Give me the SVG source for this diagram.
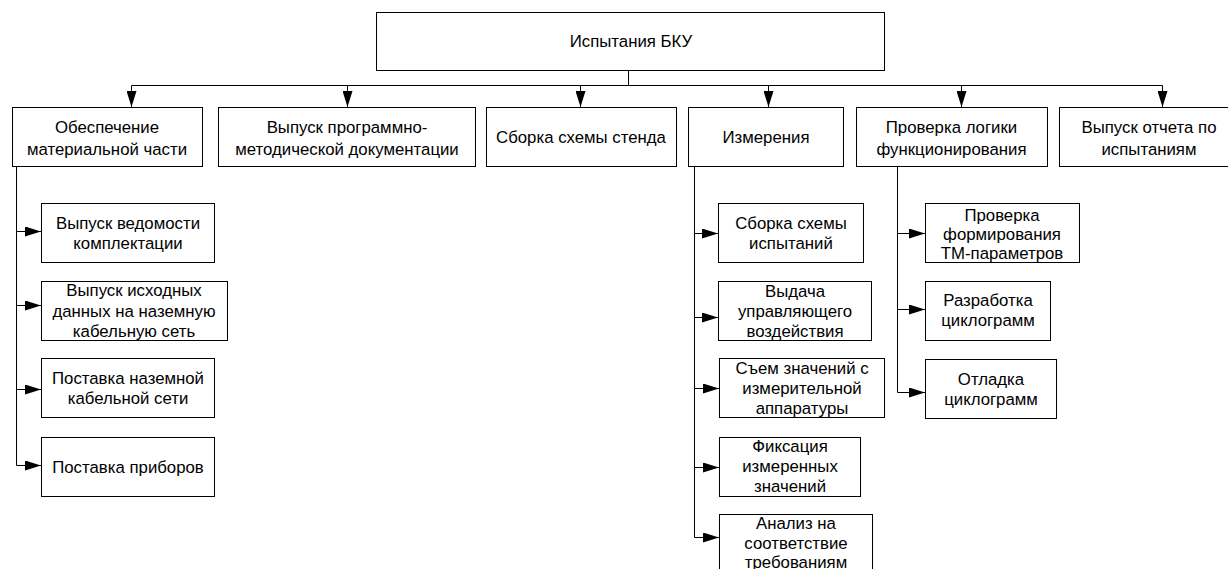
<svg xmlns="http://www.w3.org/2000/svg" width="1228" height="569" viewBox="0 0 1228 569">
<style>
rect{fill:#fff;stroke:#000;stroke-width:1}
text{font-family:"Liberation Sans",Arial,sans-serif;font-size:16.8px;fill:#000;text-anchor:middle}
.c{fill:none;stroke:#000;stroke-width:1}
</style>
<defs>
<marker id="arr" markerUnits="userSpaceOnUse" viewBox="0 0 16 10" refX="16" refY="5" markerWidth="16" markerHeight="10" orient="auto">
<path d="M0,0 L16,5 L0,10 z" fill="#000"/>
</marker>
</defs>
<rect x="0" y="0" width="1228" height="569" style="fill:#fff;stroke:none"/>
<g id="connectors">
<path class="c" d="M628.5,71 V85.5 H131.5 V107" marker-end="url(#arr)"/>
<path class="c" d="M628.5,85.5 H347.5 V107" marker-end="url(#arr)"/>
<path class="c" d="M628.5,85.5 H580.5 V107" marker-end="url(#arr)"/>
<path class="c" d="M628.5,85.5 H768.5 V107" marker-end="url(#arr)"/>
<path class="c" d="M628.5,85.5 H961.5 V107" marker-end="url(#arr)"/>
<path class="c" d="M628.5,85.5 H1162.5 V107" marker-end="url(#arr)"/>
<path class="c" d="M16.5,167 V231.5 H41" marker-end="url(#arr)"/>
<path class="c" d="M16.5,231.5 V305.5 H41" marker-end="url(#arr)"/>
<path class="c" d="M16.5,305.5 V389.5 H41" marker-end="url(#arr)"/>
<path class="c" d="M16.5,389.5 V465.5 H41" marker-end="url(#arr)"/>
<path class="c" d="M694.5,167 V233.5 H718" marker-end="url(#arr)"/>
<path class="c" d="M694.5,233.5 V317.5 H718" marker-end="url(#arr)"/>
<path class="c" d="M694.5,317.5 V388.5 H719" marker-end="url(#arr)"/>
<path class="c" d="M694.5,388.5 V467.5 H719" marker-end="url(#arr)"/>
<path class="c" d="M694.5,467.5 V537.5 H719" marker-end="url(#arr)"/>
<path class="c" d="M897.5,167 V233.5 H925" marker-end="url(#arr)"/>
<path class="c" d="M897.5,233.5 V309.5 H925" marker-end="url(#arr)"/>
<path class="c" d="M897.5,309.5 V392.5 H925" marker-end="url(#arr)"/>
</g>
<g id="root"><rect x="376.5" y="12.5" width="508" height="58"/><text x="631" y="47">Испытания БКУ</text></g>
<g id="n1"><rect x="12.5" y="107.5" width="190" height="59"/><text x="107" y="133">Обеспечение</text><text x="107" y="155">материальной части</text></g>
<g id="n2"><rect x="218.5" y="107.5" width="257" height="59"/><text x="347" y="133">Выпуск программно-</text><text x="347" y="155">методической документации</text></g>
<g id="n3"><rect x="486.5" y="107.5" width="190" height="59"/><text x="581" y="143">Сборка схемы стенда</text></g>
<g id="n4"><rect x="688.5" y="107.5" width="155" height="59"/><text x="766" y="143">Измерения</text></g>
<g id="n5"><rect x="856.5" y="107.5" width="191" height="59"/><text x="951.5" y="133">Проверка логики</text><text x="951.5" y="155">функционирования</text></g>
<g id="n6"><rect x="1059.5" y="107.5" width="180" height="59"/><text x="1149" y="133">Выпуск отчета по</text><text x="1149" y="155">испытаниям</text></g>
<g id="l1"><rect x="41.5" y="203.5" width="173" height="59"/><text x="128" y="229">Выпуск ведомости</text><text x="128" y="249">комплектации</text></g>
<g id="l2"><rect x="41.5" y="281.5" width="186" height="59"/><text x="134" y="296">Выпуск исходных</text><text x="134" y="317">данных на наземную</text><text x="134" y="337">кабельную сеть</text></g>
<g id="l3"><rect x="41.5" y="358.5" width="173" height="59"/><text x="128" y="384">Поставка наземной</text><text x="128" y="404">кабельной сети</text></g>
<g id="l4"><rect x="41.5" y="437.5" width="173" height="59"/><text x="128" y="473">Поставка приборов</text></g>
<g id="m1"><rect x="718.5" y="203.5" width="145" height="59"/><text x="791" y="229">Сборка схемы</text><text x="791" y="249">испытаний</text></g>
<g id="m2"><rect x="718.5" y="281.5" width="153" height="59"/><text x="795" y="297">Выдача</text><text x="795" y="317">управляющего</text><text x="795" y="337">воздействия</text></g>
<g id="m3"><rect x="719.5" y="358.5" width="165" height="59"/><text x="802" y="374">Съем значений с</text><text x="802" y="394">измерительной</text><text x="802" y="414">аппаратуры</text></g>
<g id="m4"><rect x="719.5" y="437.5" width="141" height="59"/><text x="790" y="452">Фиксация</text><text x="790" y="472">измеренных</text><text x="790" y="492">значений</text></g>
<g id="m5"><rect x="719.5" y="514.5" width="153" height="59"/><text x="796" y="529">Анализ на</text><text x="796" y="549">соответствие</text><text x="796" y="568">требованиям</text></g>
<g id="p1"><rect x="925.5" y="203.5" width="154" height="59"/><text x="1002" y="221">Проверка</text><text x="1002" y="240">формирования</text><text x="1002" y="259">ТМ-параметров</text></g>
<g id="p2"><rect x="925.5" y="281.5" width="125" height="59"/><text x="988" y="306">Разработка</text><text x="988" y="326">циклограмм</text></g>
<g id="p3"><rect x="925.5" y="359.5" width="131" height="59"/><text x="991" y="385">Отладка</text><text x="991" y="405">циклограмм</text></g>
</svg>
